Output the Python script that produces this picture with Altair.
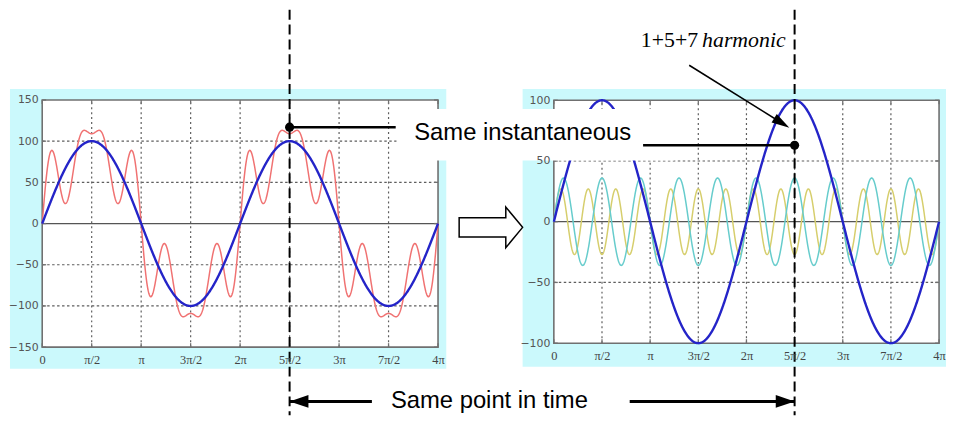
import json
import numpy as np
import pandas as pd
import altair as alt

PI = float(np.pi)

# ---------------- data ----------------
HARMONIC_ORDERS = [1, 5, 7]
HARMONIC_AMPLITUDES = [100.0, 36.0, 27.0]

X_TICK_VALUES = [k * PI / 2 for k in range(9)]
X_TICK_LABELS = ["0", "π/2", "π", "3π/2", "2π", "5π/2", "3π", "7π/2", "4π"]
LEFT_Y_TICKS = [-150, -100, -50, 0, 50, 100, 150]
RIGHT_Y_TICKS = [-100, -50, 0, 50, 100]
LEFT_Y_DOMAIN = [-150, 150]
RIGHT_Y_DOMAIN = [-100, 100]
T_DOMAIN = [0.0, 4 * PI]

MARK_T = [5 * PI / 2]
LEFT_DOT_VALUE = [117.0]
RIGHT_DOT_VALUE = [63.0]

ANNOT_TOP = "Same instantaneous"
ANNOT_BOTTOM = "Same point in time"
ANNOT_HARM_NUM = "1+5+7"
ANNOT_HARM_WORD = "harmonic"

# ---------------- layout / style ----------------
W, H = 946, 409
L_XR = [34.5, 433.7]
L_YR = [340.3, 91.0]
R_XR = [550.5, 939.0]
R_YR = [336.3, 91.3]

CYAN = "#cbf9fc"
GRID = "#5e5e5e"
FRAME = "#707070"
BLUE = "#2424c8"
RED = "#f07272"
TEAL = "#66cccc"
KHAKI = "#d6ce6c"

t = np.linspace(T_DOMAIN[0], T_DOMAIN[1], 1201)
comp = {n: a * np.sin(n * t) for n, a in zip(HARMONIC_ORDERS, HARMONIC_AMPLITUDES)}
total = comp[1] + comp[5] + comp[7]

ONE = pd.DataFrame({"a": [0]})
label_expr = json.dumps(X_TICK_LABELS) + "[round(datum.value / (PI / 2))]"


def make_panel(xr, yr, ydom, yticks, curves):
    sx = alt.Scale(domain=T_DOMAIN, range=xr, nice=False, zero=False)
    sy = alt.Scale(domain=ydom, range=yr, nice=False, zero=False)

    def X(f, axis=None):
        return alt.X(f, type="quantitative", scale=sx, axis=axis)

    def Y(f, axis=None):
        return alt.Y(f, type="quantitative", scale=sy, axis=axis)

    layers = []
    box = pd.DataFrame({"x0": [T_DOMAIN[0]], "x1": [T_DOMAIN[1]],
                        "y0": [ydom[0]], "y1": [ydom[1]]})
    layers.append(alt.Chart(box).mark_rect(fill="white").encode(
        x=X("x0"), x2="x1", y=Y("y0"), y2="y1"))

    gx = pd.DataFrame({"t": X_TICK_VALUES[1:-1]})
    gx["y0"] = ydom[0]
    gx["y1"] = ydom[1]
    layers.append(alt.Chart(gx).mark_rule(color=GRID, strokeWidth=1.2, strokeDash=[2, 3]).encode(
        x=X("t"), y=Y("y0"), y2="y1"))

    gy = pd.DataFrame({"v": [v for v in yticks if v not in (0, ydom[0], ydom[1])]})
    gy["x0"] = T_DOMAIN[0]
    gy["x1"] = T_DOMAIN[1]
    layers.append(alt.Chart(gy).mark_rule(color=GRID, strokeWidth=1.2, strokeDash=[2.5, 2.5]).encode(
        x=X("x0"), x2="x1", y=Y("v")))

    zero = pd.DataFrame({"v": [0], "x0": [T_DOMAIN[0]], "x1": [T_DOMAIN[1]]})
    layers.append(alt.Chart(zero).mark_rule(color="#555555", strokeWidth=1.3).encode(
        x=X("x0"), x2="x1", y=Y("v")))

    # inner tick marks, 4 px long, on all four sides
    ty = 4.0 * (ydom[1] - ydom[0]) / abs(yr[0] - yr[1])
    tx = 4.0 * (T_DOMAIN[1] - T_DOMAIN[0]) / abs(xr[1] - xr[0])
    tk = pd.DataFrame({"t": X_TICK_VALUES})
    tk["b0"] = ydom[0]
    tk["b1"] = ydom[0] + ty
    tk["u0"] = ydom[1]
    tk["u1"] = ydom[1] - ty
    layers.append(alt.Chart(tk).mark_rule(color=FRAME, strokeWidth=1.3).encode(
        x=X("t"), y=Y("b0"), y2="b1"))
    layers.append(alt.Chart(tk).mark_rule(color=FRAME, strokeWidth=1.3).encode(
        x=X("t"), y=Y("u0"), y2="u1"))
    tv = pd.DataFrame({"v": yticks})
    tv["l0"] = T_DOMAIN[0]
    tv["l1"] = T_DOMAIN[0] + tx
    tv["r0"] = T_DOMAIN[1]
    tv["r1"] = T_DOMAIN[1] - tx
    layers.append(alt.Chart(tv).mark_rule(color=FRAME, strokeWidth=1.3).encode(
        x=X("l0"), x2="l1", y=Y("v")))
    layers.append(alt.Chart(tv).mark_rule(color=FRAME, strokeWidth=1.3).encode(
        x=X("r0"), x2="r1", y=Y("v")))

    layers.append(alt.Chart(box).mark_rect(fillOpacity=0, stroke=FRAME, strokeWidth=1.6).encode(
        x=X("x0"), x2="x1", y=Y("y0"), y2="y1"))

    xaxis = alt.Axis(values=X_TICK_VALUES, labelExpr=label_expr, orient="bottom",
                     offset=-(H - yr[0]), domain=False, ticks=False, grid=False,
                     labelFont="Liberation Serif", labelFontSize=12.5, labelColor="#444444",
                     labelPadding=6, title=None, zindex=1, labelFlush=False, labelOverlap=False)
    yaxis = alt.Axis(values=yticks, orient="left", offset=-xr[0], domain=False, ticks=False,
                     grid=False, labelFont="DejaVu Sans", labelFontSize=11, labelColor="#555555",
                     labelPadding=4, title=None, zindex=1, labelOverlap=False, format="d")
    for i, (vals, color, width) in enumerate(curves):
        df = pd.DataFrame({"t": t, "v": vals})
        layers.append(alt.Chart(df).mark_line(color=color, strokeWidth=width).encode(
            x=X("t", xaxis if i == 0 else None), y=Y("v", yaxis if i == 0 else None)))
    return layers, X, Y


left_layers, LX, LY = make_panel(L_XR, L_YR, LEFT_Y_DOMAIN, LEFT_Y_TICKS,
                                 [(total, RED, 1.5), (comp[1], BLUE, 2.4)])
right_layers, RX, RY = make_panel(R_XR, R_YR, RIGHT_Y_DOMAIN, RIGHT_Y_TICKS,
                                  [(comp[7], KHAKI, 1.5), (comp[5], TEAL, 1.5), (comp[1], BLUE, 2.4)])

bg = [
    alt.Chart(ONE).mark_rect(color=CYAN).encode(
        x=alt.value(2), x2=alt.value(442), y=alt.value(80), y2=alt.value(362)),
    alt.Chart(ONE).mark_rect(color=CYAN).encode(
        x=alt.value(519), x2=alt.value(W), y=alt.value(80), y2=alt.value(360)),
]

mark_l = pd.DataFrame({"t": MARK_T, "v": LEFT_DOT_VALUE})
mark_r = pd.DataFrame({"t": MARK_T, "v": RIGHT_DOT_VALUE})

white_box = alt.Chart(ONE).mark_rect(color="white").encode(
    x=alt.value(392), x2=alt.value(672), y=alt.value(100), y2=alt.value(152))

dash_l = alt.Chart(mark_l).mark_rule(color="black", strokeWidth=2, strokeDash=[10, 5]).encode(
    x=LX("t"), y=alt.value(0), y2=alt.value(H))
dash_r = alt.Chart(mark_r).mark_rule(color="black", strokeWidth=2, strokeDash=[10, 5]).encode(
    x=RX("t"), y=alt.value(0), y2=alt.value(H))

dot_l = alt.Chart(mark_l).mark_circle(size=85, color="black", opacity=1).encode(x=LX("t"), y=LY("v"))
dot_r = alt.Chart(mark_r).mark_circle(size=85, color="black", opacity=1).encode(x=RX("t"), y=RY("v"))
line_l = alt.Chart(mark_l).mark_rule(color="black", strokeWidth=2.5).encode(
    x=LX("t"), x2=alt.value(391), y=LY("v"))
line_r = alt.Chart(mark_r).mark_rule(color="black", strokeWidth=2.5).encode(
    x=RX("t"), x2=alt.value(640.5), y=RY("v"))

txt_top = alt.Chart(ONE).mark_text(font="Liberation Sans", fontSize=24, align="left",
                                   baseline="alphabetic", color="black").encode(
    x=alt.value(409.7), y=alt.value(131.6), text=alt.value(ANNOT_TOP))
txt_bot = alt.Chart(ONE).mark_text(font="Liberation Sans", fontSize=24, align="center",
                                   baseline="alphabetic", color="black").encode(
    x=alt.value(485.5), y=alt.value(402), text=alt.value(ANNOT_BOTTOM))

HEAD_R = "M1,0 L-1,-0.68 L-1,0.68 Z"
HEAD_L = "M-1,0 L1,-0.68 L1,0.68 Z"
ARROW_Y = 395
arr_l_line = alt.Chart(mark_l).mark_rule(color="black", strokeWidth=3).encode(
    x=LX("t"), x2=alt.value(367), y=alt.value(ARROW_Y))
arr_l_head = alt.Chart(mark_l).mark_point(shape=HEAD_L, size=361, filled=True, color="black",
                                          opacity=1, xOffset=9.5).encode(
    x=LX("t"), y=alt.value(ARROW_Y))
arr_r_line = alt.Chart(mark_r).mark_rule(color="black", strokeWidth=3).encode(
    x=RX("t"), x2=alt.value(627), y=alt.value(ARROW_Y))
arr_r_head = alt.Chart(mark_r).mark_point(shape=HEAD_R, size=361, filled=True, color="black",
                                          opacity=1, xOffset=-9.5).encode(
    x=RX("t"), y=alt.value(ARROW_Y))

# diagonal pointer from the harmonic label to the right dot
p0 = np.array([687.0, 56.0])
tip = np.array([788.0, 119.0])
u = (tip - p0) / np.linalg.norm(tip - p0)
hc = tip - 9.0 * u
ang = float(np.degrees(np.arctan2(u[1], u[0])))
diag_line = alt.Chart(ONE).mark_rule(color="black", strokeWidth=1.5).encode(
    x=alt.value(float(p0[0])), y=alt.value(float(p0[1])),
    x2=alt.value(float(hc[0])), y2=alt.value(float(hc[1])))
diag_head = alt.Chart(ONE).mark_point(shape="M1,0 L-1,-0.55 L-1,0.55 Z", size=324, filled=True,
                                      color="black", opacity=1, angle=ang).encode(
    x=alt.value(float(hc[0])), y=alt.value(float(hc[1])))

harm_num = alt.Chart(ONE).mark_text(font="Liberation Serif", fontSize=22, align="right",
                                    baseline="alphabetic", color="black").encode(
    x=alt.value(696), y=alt.value(38), text=alt.value(ANNOT_HARM_NUM))
harm_word = alt.Chart(ONE).mark_text(font="Liberation Serif", fontSize=22, fontStyle="italic",
                                     align="left", baseline="alphabetic", color="black").encode(
    x=alt.value(700), y=alt.value(38), text=alt.value(ANNOT_HARM_WORD))

block_arrow = alt.Chart(ONE).mark_point(
    shape="M-1,-0.3 L0.47,-0.3 L0.47,-0.64 L1,0 L0.47,0.64 L0.47,0.3 L-1,0.3 Z",
    size=4096, filled=True, fill="white", stroke="black", strokeWidth=1.5, opacity=1).encode(
    x=alt.value(487), y=alt.value(219.5))

layers = (bg + left_layers + right_layers +
          [white_box, dash_l, dash_r, line_l, line_r, dot_l, dot_r, txt_top, txt_bot,
           arr_l_line, arr_l_head, arr_r_line, arr_r_head, diag_line, diag_head,
           harm_num, harm_word, block_arrow])

chart = alt.layer(*layers).resolve_scale(x="independent", y="independent").properties(
    width=W, height=H, padding=0, autosize=alt.AutoSizeParams(type="none")
).configure_view(stroke=None)

chart.save("out.html", embed_options={"renderer": "svg", "actions": False})
